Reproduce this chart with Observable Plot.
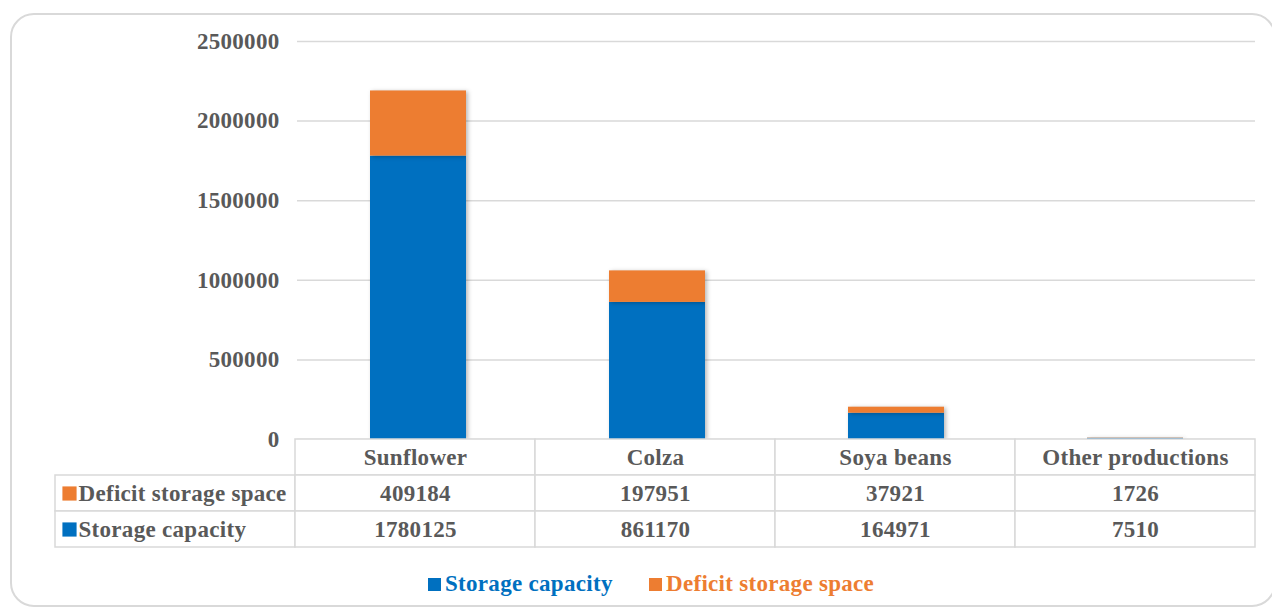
<!DOCTYPE html>
<html>
<head>
<meta charset="utf-8">
<script src="https://cdn.jsdelivr.net/npm/d3@7"></script>
<script src="https://cdn.jsdelivr.net/npm/@observablehq/plot@0.6"></script>
<style>
  html, body { margin: 0; padding: 0; background: #fff; width: 1272px; height: 610px; overflow: hidden; }
  #frame { position: absolute; left: 10px; top: 13px; width: 1262px; height: 590px; border: 2px solid #d9d9d9; border-radius: 24px; box-sizing: content-box; }
  #chart { position: absolute; left: 0; top: 0; }
  #table { position: absolute; left: 0; top: 438px; }
  .lg { position: absolute; font-family: "Liberation Serif", "Times New Roman", serif; font-weight: bold; font-size: 23px; letter-spacing: 0.3px; white-space: nowrap; }
  .sq { position: absolute; width: 13px; height: 13px; }
  g[aria-label="bar"] rect { filter: drop-shadow(2px 1px 2px rgba(0,0,0,0.28)); }
</style>
</head>
<body>
<div id="frame"></div>
<div id="chart"></div>
<div id="table"></div>
<div class="sq" style="left:428px;top:578px;background:#0070c0"></div>
<div class="lg" style="left:445px;top:571px;color:#0070c0">Storage capacity</div>
<div class="sq" style="left:649px;top:578px;background:#ed7d31"></div>
<div class="lg" style="left:666px;top:571px;color:#ed7d31">Deficit storage space</div>
<script>
const categories = ["Sunflower", "Colza", "Soya beans", "Other productions"];
const storageCapacity = [1780125, 861170, 164971, 7510];
const deficitStorage = [409184, 197951, 37921, 1726];
const seriesNames = ["Storage capacity", "Deficit storage space"];
const seriesColors = ["#0070c0", "#ed7d31"];
const yTicks = [0, 500000, 1000000, 1500000, 2000000, 2500000];

const barData = [];
categories.forEach((c, i) => {
  barData.push({category: c, series: seriesNames[0], value: storageCapacity[i]});
  barData.push({category: c, series: seriesNames[1], value: deficitStorage[i]});
});

const font = {fontFamily: "'Liberation Serif', 'Times New Roman', serif", fontSize: "23px", fontWeight: "bold", color: "#595959", background: "transparent", letterSpacing: "0.3px", overflow: "visible"};

const chart = Plot.plot({
  width: 1272,
  height: 470,
  marginTop: 41,
  marginBottom: 31,
  marginLeft: 297,
  marginRight: 17,
  style: font,
  x: {domain: categories, paddingInner: 0.6, paddingOuter: 0.3, axis: null},
  y: {domain: [0, 2500000], ticks: yTicks, tickFormat: d => String(d), tickSize: 0, tickPadding: 18, label: null},
  color: {domain: seriesNames, range: seriesColors},
  marks: [
    Plot.gridY(yTicks, {stroke: "#d9d9d9", strokeOpacity: 1, strokeWidth: 1.5}),
    Plot.barY(barData, Plot.stackY({x: "category", y: "value", fill: "series", order: seriesNames}))
  ]
});
document.getElementById("chart").appendChild(chart);

// Data table below the chart
const rows = ["header", seriesNames[1], seriesNames[0]];
const cols = ["", ...categories];
const cells = [];
rows.forEach(r => cols.forEach(c => { if (!(r === "header" && c === "")) cells.push({row: r, col: c}); }));
const valueCells = [];
categories.forEach((c, i) => {
  valueCells.push({row: seriesNames[1], col: c, text: String(deficitStorage[i])});
  valueCells.push({row: seriesNames[0], col: c, text: String(storageCapacity[i])});
  valueCells.push({row: "header", col: c, text: c});
});
const labelCells = [
  {row: seriesNames[1], col: "", text: seriesNames[1], color: seriesColors[1]},
  {row: seriesNames[0], col: "", text: seriesNames[0], color: seriesColors[0]}
];

const table = Plot.plot({
  width: 1272,
  height: 110,
  marginTop: 1,
  marginBottom: 1,
  marginLeft: 55,
  marginRight: 17,
  style: font,
  x: {domain: cols, padding: 0, axis: null},
  y: {domain: rows, padding: 0, axis: null},
  marks: [
    Plot.cell(cells, {x: "col", y: "row", fill: "white", stroke: "#d9d9d9", strokeWidth: 1.5}),
    Plot.text(valueCells, {x: "col", y: "row", text: "text", fill: "#595959", fontSize: 23, fontWeight: "bold"}),
    Plot.dot(labelCells, {x: "col", y: "row", symbol: "square", r: 8, fill: "color", stroke: null, dx: -106}),
    Plot.text(labelCells, {x: "col", y: "row", text: "text", fill: "#595959", textAnchor: "start", dx: -97, fontSize: 23, fontWeight: "bold"})
  ]
});
document.getElementById("table").appendChild(table);
</script>
</body>
</html>
